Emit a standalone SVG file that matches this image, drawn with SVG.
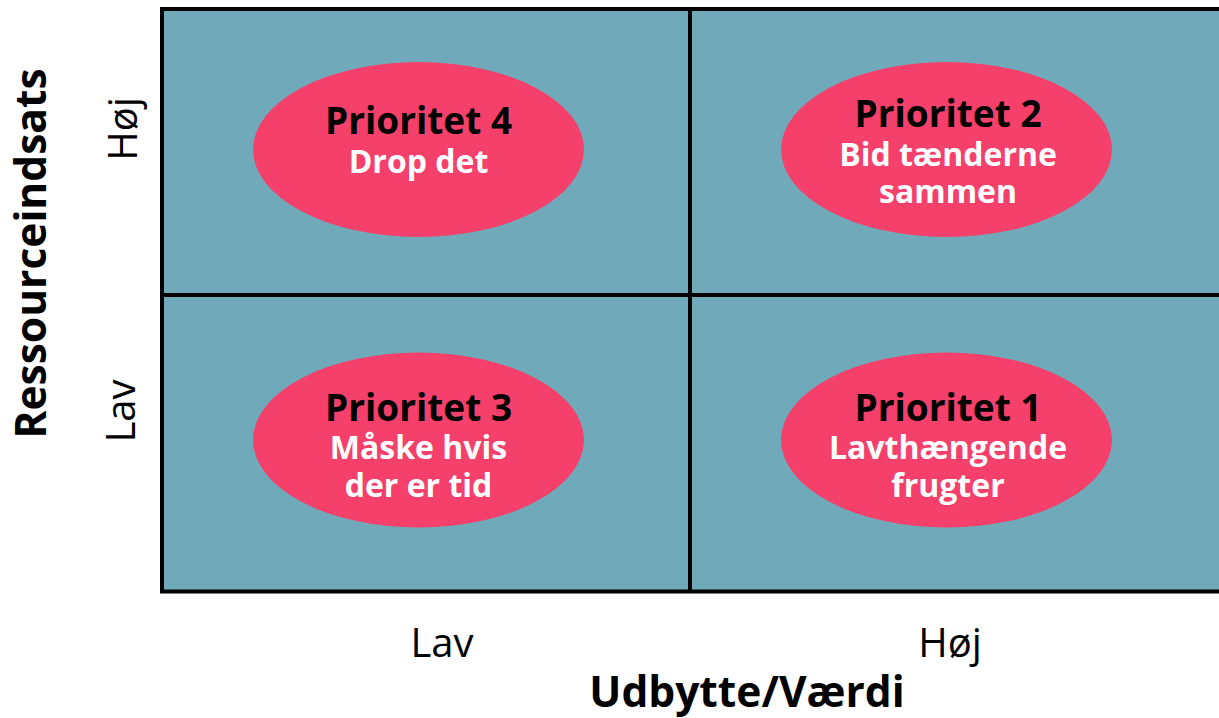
<svg xmlns="http://www.w3.org/2000/svg" width="1219" height="718" viewBox="0 0 1219 718">
<style>
.q{fill:#70aaba;stroke:none}
.ln{stroke:#000;stroke-width:4;fill:none}
.el{fill:#f4406a}
.t{font-family:"Open Sans","Noto Sans","DejaVu Sans",sans-serif;font-weight:700;font-size:37px;fill:#000;text-anchor:middle}
.s{font-family:"Open Sans","Noto Sans","DejaVu Sans",sans-serif;font-weight:700;font-size:32px;fill:#fff;text-anchor:middle}
.ax{font-family:"Open Sans","Noto Sans","DejaVu Sans",sans-serif;font-weight:400;font-size:40px;fill:#000;text-anchor:middle}
.at{font-family:"Open Sans","Noto Sans","DejaVu Sans",sans-serif;font-weight:700;font-size:42.5px;fill:#000;text-anchor:middle}
</style>
<rect width="1219" height="718" fill="#fff"/>
<g id="grid">
<rect class="q" x="162" y="9" width="1100" height="582.5"/>
<rect class="ln" x="162" y="9" width="1100" height="582.5"/>
</g>
<g id="connectors">
<line class="ln" x1="690" y1="9" x2="690" y2="591.5"/>
<line class="ln" x1="162" y1="295" x2="1219" y2="295"/>
</g>
<g id="p4">
<ellipse class="el" cx="418.5" cy="149.5" rx="165.5" ry="87.5"/>
<text class="t" x="418.5" y="134">Prioritet 4</text>
<text class="s" x="418.5" y="173">Drop det</text>
</g>
<g id="p2">
<ellipse class="el" cx="946.5" cy="149.5" rx="165.5" ry="87.5"/>
<text class="t" x="948" y="127">Prioritet 2</text>
<text class="s" x="948" y="166">Bid tænderne</text>
<text class="s" x="948" y="203">sammen</text>
</g>
<g id="p3">
<ellipse class="el" cx="418.5" cy="440" rx="165.5" ry="87.5"/>
<text class="t" x="418.5" y="421">Prioritet 3</text>
<text class="s" x="418.5" y="459">Måske hvis</text>
<text class="s" x="418.5" y="497">der er tid</text>
</g>
<g id="p1">
<ellipse class="el" cx="946.5" cy="440" rx="165.5" ry="87.5"/>
<text class="t" x="948" y="421">Prioritet 1</text>
<text class="s" x="948" y="459">Lavthængende</text>
<text class="s" x="948" y="497">frugter</text>
</g>
<g id="axes">
<text class="ax" x="442" y="657">Lav</text>
<text class="ax" x="950" y="657">Høj</text>
<text class="at" x="747" y="707">Udbytte/Værdi</text>
<text class="ax" transform="translate(137,129) rotate(-90)">Høj</text>
<text class="ax" transform="translate(135,411) rotate(-90)">Lav</text>
<text class="at" transform="translate(46,253.5) rotate(-90)">Ressourceindsats</text>
</g>
</svg>
